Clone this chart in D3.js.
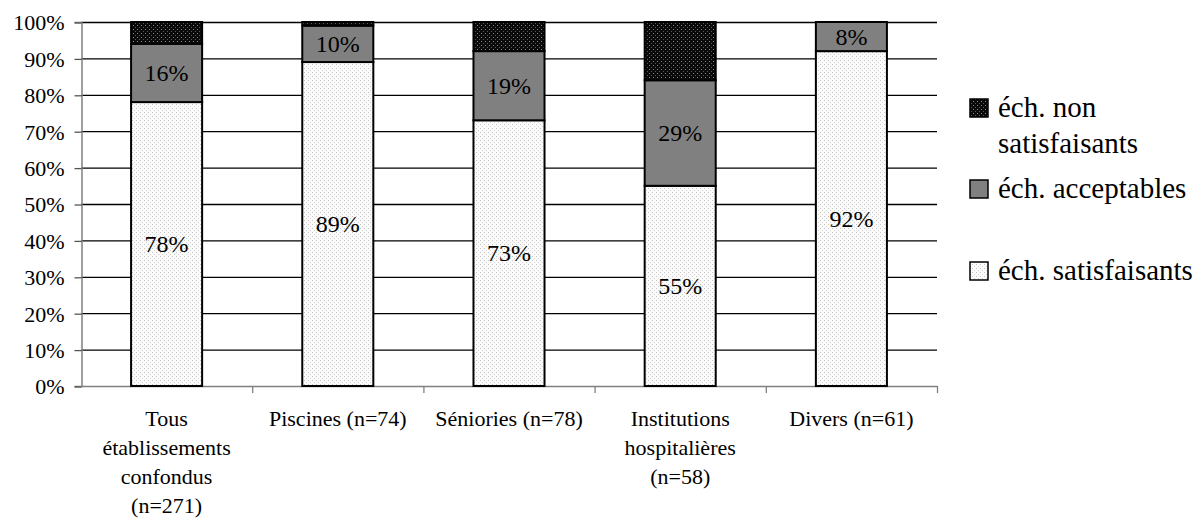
<!DOCTYPE html>
<html>
<head>
<meta charset="utf-8">
<script src="https://cdn.jsdelivr.net/npm/d3@7"></script>
<style>
  html, body { margin: 0; padding: 0; background: #fff; }
  svg { display: block; }
  svg text { font-family: "Liberation Serif", "Times New Roman", Times, serif; fill: #000; }
</style>
</head>
<body>
<svg id="chart" width="1201" height="519"></svg>
<script>
// Category labels, one entry per text line
const categories = [
  ["Tous", "établissements", "confondus", "(n=271)"],
  ["Piscines (n=74)"],
  ["Séniories (n=78)"],
  ["Institutions", "hospitalières", "(n=58)"],
  ["Divers (n=61)"]
];
const satisfaisants    = [78, 89, 73, 55, 92];
const acceptables      = [16, 10, 19, 29, 8];
const nonSatisfaisants = [6, 1, 8, 16, 0];
const yTicks = [0, 10, 20, 30, 40, 50, 60, 70, 80, 90, 100];
const seriesNames = ["éch. satisfaisants", "éch. acceptables", "éch. non satisfaisants"];

const svg = d3.select("#chart");
const margin = { left: 81, right: 264, top: 22, bottom: 133 };
const W = 1201, H = 519;

// Fill patterns
const defs = svg.append("defs");
const light = defs.append("pattern").attr("id", "pLight")
  .attr("width", 4).attr("height", 4).attr("patternUnits", "userSpaceOnUse");
light.append("rect").attr("width", 4).attr("height", 4).attr("fill", "#fbfbfb");
light.append("rect").attr("x", 0).attr("y", 0).attr("width", 1).attr("height", 1).attr("fill", "#c4c4c4");
light.append("rect").attr("x", 2).attr("y", 2).attr("width", 1).attr("height", 1).attr("fill", "#d4d4d4");

const dark = defs.append("pattern").attr("id", "pDark")
  .attr("width", 4).attr("height", 4).attr("patternUnits", "userSpaceOnUse");
dark.append("rect").attr("width", 4).attr("height", 4).attr("fill", "#0a0a0a");
dark.append("rect").attr("x", 1).attr("y", 1).attr("width", 1).attr("height", 1).attr("fill", "#8a8a8a");
dark.append("rect").attr("x", 3).attr("y", 3).attr("width", 1).attr("height", 1).attr("fill", "#5a5a5a");

const fills = ["url(#pLight)", "#808080", "url(#pDark)"];

const x = d3.scaleBand()
  .domain(d3.range(categories.length))
  .range([margin.left, W - margin.right])
  .paddingInner(0.585).paddingOuter(0.2925);
const y = d3.scaleLinear().domain([0, 100]).range([H - margin.bottom, margin.top]);

// Horizontal gridlines
svg.append("g").selectAll("line").data(yTicks.filter(d => d > 0)).join("line")
  .attr("x1", margin.left).attr("x2", W - margin.right)
  .attr("y1", d => y(d) + 0.5).attr("y2", d => y(d) + 0.5)
  .attr("stroke", "#000").attr("stroke-width", 1.3);

// Y axis
const yAxis = svg.append("g")
  .attr("transform", `translate(${margin.left + 0.5},0)`)
  .call(d3.axisLeft(y).tickValues(yTicks).tickFormat(d => d + "%").tickSize(7).tickPadding(10));
yAxis.attr("font-family", null).attr("font-size", null);
yAxis.select(".domain").attr("stroke", "#808080").attr("stroke-width", 1.5);
yAxis.selectAll(".tick line").attr("stroke", "#555").attr("stroke-width", 1.3)
  .attr("transform", "translate(0,0.5)");
yAxis.selectAll(".tick text").style("font-size", "22px").attr("dy", "0.36em");

// X axis baseline with ticks between categories
const step = (W - margin.left - margin.right) / categories.length;
const xAxis = svg.append("g");
xAxis.append("line")
  .attr("x1", margin.left).attr("x2", W - margin.right)
  .attr("y1", y(0) + 0.5).attr("y2", y(0) + 0.5)
  .attr("stroke", "#808080").attr("stroke-width", 1.5);
xAxis.selectAll("line.tk").data(d3.range(1, categories.length + 1)).join("line")
  .attr("class", "tk")
  .attr("x1", i => margin.left + i * step + 0.5).attr("x2", i => margin.left + i * step + 0.5)
  .attr("y1", y(0)).attr("y2", y(0) + 7)
  .attr("stroke", "#808080").attr("stroke-width", 1.3);

// Stacked bars
const rows = categories.map((c, i) => ({ i, vals: [satisfaisants[i], acceptables[i], nonSatisfaisants[i]] }));
const stack = d3.stack().keys([0, 1, 2]).value((d, k) => d.vals[k]);
const layers = stack(rows);

layers.forEach((layer, k) => {
  svg.append("g").selectAll("rect").data(layer.filter(d => d[1] > d[0])).join("rect")
    .attr("x", d => x(d.data.i))
    .attr("width", x.bandwidth())
    .attr("y", d => y(d[1]))
    .attr("height", d => y(d[0]) - y(d[1]))
    .attr("fill", fills[k])
    .attr("stroke", "#000").attr("stroke-width", 2);
});

// Value labels for the first two series
layers.slice(0, 2).forEach((layer, k) => {
  svg.append("g").selectAll("text").data(layer).join("text")
    .attr("x", d => x(d.data.i) + x.bandwidth() / 2)
    .attr("y", d => y((d[0] + d[1]) / 2))
    .attr("dy", "0.34em")
    .attr("text-anchor", "middle")
    .style("font-size", "24px")
    .text(d => (d[1] - d[0]) + "%");
});

// Category labels
const catG = svg.append("g");
categories.forEach((lines, i) => {
  const cx = x(i) + x.bandwidth() / 2;
  const t = catG.append("text")
    .attr("x", cx)
    .attr("y", y(0) + 40)
    .attr("text-anchor", "middle")
    .style("font-size", "22px");
  lines.forEach((ln, j) => {
    t.append("tspan").attr("x", cx).attr("dy", j === 0 ? 0 : 29).text(ln);
  });
});

// Legend (top to bottom: non satisfaisants, acceptables, satisfaisants)
const legend = [
  { lines: ["éch. non", "satisfaisants"], fill: fills[2], y: 117 },
  { lines: ["éch. acceptables"], fill: fills[1], y: 198 },
  { lines: ["éch. satisfaisants"], fill: fills[0], y: 280 }
];
const lg = svg.append("g");
legend.forEach(item => {
  lg.append("rect")
    .attr("x", 970).attr("y", item.y - 18)
    .attr("width", 18).attr("height", 18)
    .attr("fill", item.fill).attr("stroke", "#000").attr("stroke-width", 1.5);
  const t = lg.append("text")
    .attr("x", 998).attr("y", item.y)
    .style("font-size", "29px");
  item.lines.forEach((ln, j) => {
    t.append("tspan").attr("x", 998).attr("dy", j === 0 ? 0 : 36).text(ln);
  });
});
</script>
</body>
</html>
